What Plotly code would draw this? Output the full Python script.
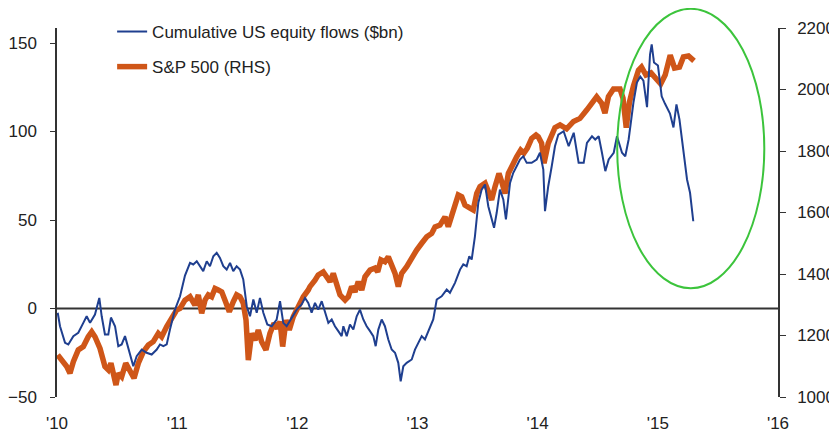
import plotly.graph_objects as go

# cumulative US equity flows ($bn), left axis
FLOW_YEARS = [
    2010.006, 2010.025, 2010.067, 2010.094, 2010.136, 2010.177, 2010.219, 2010.247, 2010.275, 2010.316,
    2010.352, 2010.372, 2010.399, 2010.427, 2010.449, 2010.483, 2010.510, 2010.538, 2010.566, 2010.593,
    2010.635, 2010.663, 2010.705, 2010.746, 2010.788, 2010.830, 2010.857, 2010.885, 2010.913, 2010.940,
    2010.982, 2011.024, 2011.065, 2011.107, 2011.134, 2011.163, 2011.190, 2011.217, 2011.246, 2011.273,
    2011.301, 2011.329, 2011.356, 2011.384, 2011.412, 2011.440, 2011.467, 2011.495, 2011.523, 2011.550,
    2011.579, 2011.606, 2011.634, 2011.662, 2011.689, 2011.717, 2011.750, 2011.787, 2011.828, 2011.856,
    2011.883, 2011.911, 2011.953, 2011.995, 2012.036, 2012.064, 2012.091, 2012.119, 2012.147, 2012.174,
    2012.203, 2012.230, 2012.258, 2012.286, 2012.313, 2012.341, 2012.369, 2012.383, 2012.411, 2012.438,
    2012.466, 2012.494, 2012.521, 2012.549, 2012.577, 2012.605, 2012.632, 2012.652, 2012.674, 2012.702,
    2012.729, 2012.757, 2012.785, 2012.813, 2012.840, 2012.860, 2012.882, 2012.910, 2012.952, 2012.979,
    2013.007, 2013.035, 2013.062, 2013.090, 2013.131, 2013.160, 2013.201, 2013.243, 2013.270, 2013.312,
    2013.354, 2013.381, 2013.409, 2013.431, 2013.451, 2013.478, 2013.506, 2013.534, 2013.562, 2013.589,
    2013.637, 2013.659, 2013.686, 2013.714, 2013.736, 2013.770, 2013.797, 2013.825, 2013.853, 2013.880,
    2013.909, 2013.950, 2013.992, 2014.019, 2014.047, 2014.061, 2014.088, 2014.117, 2014.144, 2014.172,
    2014.216, 2014.258, 2014.300, 2014.341, 2014.383, 2014.410, 2014.452, 2014.479, 2014.508, 2014.535,
    2014.563, 2014.591, 2014.633, 2014.660, 2014.702, 2014.729, 2014.757, 2014.797, 2014.826, 2014.854,
    2014.880, 2014.910, 2014.935, 2014.949, 2014.968, 2015.001, 2015.032, 2015.059, 2015.101, 2015.130,
    2015.155, 2015.180, 2015.213, 2015.243, 2015.268, 2015.295,
]
FLOWS = [
    -2.4, -10.0, -19.4, -20.3, -15.6, -13.7, -8.1, -4.4, -8.1, -3.4,
    6.0, -4.4, -14.7, -14.7, -5.1, -10.0, -21.3, -20.3, -15.6, -22.2,
    -32.6, -26.9, -23.2, -25.0, -26.0, -23.2, -20.3, -21.3, -20.3, -11.9,
    -0.6, 6.9, 18.6, 25.8, 24.9, 26.7, 23.9, 21.1, 26.7, 23.9,
    29.5, 31.5, 28.6, 23.9, 22.0, 25.8, 21.1, 23.9, 22.0, 16.4,
    1.3, -4.4, 5.1, -2.4, 6.0, -2.4, -9.0, -10.0, -6.2, 4.1,
    -8.1, -10.0, -5.3, -0.6, 2.3, 6.0, 3.2, -2.4, 3.2, -0.6,
    4.1, -2.4, -8.1, -6.2, -10.0, -12.8, -15.6, -10.0, -15.6, -9.0,
    -11.9, -4.4, -0.6, -6.2, -10.0, -12.8, -15.6, -21.3, -11.9, -6.2,
    -10.0, -17.5, -23.2, -25.0, -30.7, -41.1, -32.6, -30.7, -28.8, -23.2,
    -19.4, -15.6, -17.5, -12.8, -6.2, 5.1, 6.9, 10.7, 8.9, 14.5,
    22.0, 24.9, 23.9, 29.5, 27.7, 40.8, 59.7, 67.2, 70.1, 57.8,
    45.6, 54.1, 67.2, 61.6, 50.3, 71.0, 76.7, 80.4, 84.2, 86.0,
    82.3, 82.3, 84.2, 88.0, 78.5, 55.0, 69.1, 80.4, 91.7, 98.3,
    100.2, 91.7, 99.3, 82.3, 82.3, 93.6, 97.3, 95.5, 97.3, 88.0,
    77.6, 84.2, 88.0, 97.3, 88.0, 86.0, 95.5, 116.4, 127.7, 131.1,
    128.8, 113.8, 143.5, 149.2, 139.0, 137.3, 119.9, 115.8, 110.2, 102.3,
    115.3, 106.8, 88.1, 72.9, 65.4, 49.3,
]

# S&P 500 level, right axis
SPX_YEARS = [
    2010.006, 2010.039, 2010.081, 2010.108, 2010.136, 2010.177, 2010.219, 2010.260, 2010.289, 2010.316,
    2010.358, 2010.399, 2010.427, 2010.449, 2010.468, 2010.491, 2010.510, 2010.538, 2010.572, 2010.607,
    2010.641, 2010.677, 2010.718, 2010.760, 2010.801, 2010.843, 2010.871, 2010.913, 2010.954, 2010.996,
    2011.024, 2011.065, 2011.107, 2011.148, 2011.176, 2011.204, 2011.232, 2011.259, 2011.287, 2011.315,
    2011.342, 2011.371, 2011.398, 2011.434, 2011.467, 2011.495, 2011.523, 2011.550, 2011.573, 2011.592,
    2011.620, 2011.648, 2011.675, 2011.703, 2011.739, 2011.772, 2011.806, 2011.833, 2011.856, 2011.878,
    2011.906, 2011.933, 2011.966, 2012.008, 2012.050, 2012.091, 2012.105, 2012.147, 2012.174, 2012.216,
    2012.244, 2012.272, 2012.299, 2012.328, 2012.355, 2012.397, 2012.424, 2012.452, 2012.480, 2012.507,
    2012.536, 2012.563, 2012.605, 2012.646, 2012.669, 2012.696, 2012.729, 2012.757, 2012.785, 2012.813,
    2012.840, 2012.868, 2012.910, 2012.952, 2012.993, 2013.035, 2013.077, 2013.118, 2013.146, 2013.187,
    2013.229, 2013.256, 2013.285, 2013.312, 2013.339, 2013.368, 2013.395, 2013.437, 2013.464, 2013.493,
    2013.520, 2013.562, 2013.589, 2013.617, 2013.645, 2013.678, 2013.701, 2013.728, 2013.756, 2013.792,
    2013.825, 2013.859, 2013.886, 2013.914, 2013.950, 2013.986, 2014.005, 2014.033, 2014.053, 2014.088,
    2014.117, 2014.144, 2014.186, 2014.241, 2014.298, 2014.352, 2014.408, 2014.450, 2014.491, 2014.533,
    2014.560, 2014.589, 2014.631, 2014.685, 2014.710, 2014.737, 2014.764, 2014.797, 2014.839, 2014.864,
    2014.901, 2014.943, 2014.985, 2015.024, 2015.061, 2015.103, 2015.139, 2015.180, 2015.213, 2015.255,
    2015.301,
]
SPX = [
    1137, 1120, 1099, 1077, 1115, 1153, 1164, 1196, 1212, 1196,
    1158, 1099, 1088, 1110, 1077, 1039, 1077, 1066, 1110, 1088,
    1061, 1110, 1147, 1169, 1180, 1207, 1196, 1229, 1256, 1283,
    1288, 1315, 1326, 1299, 1332, 1272, 1315, 1332, 1326, 1353,
    1348, 1342, 1315, 1277, 1310, 1332, 1326, 1305, 1250, 1120,
    1207, 1185, 1218, 1180, 1153, 1207, 1240, 1223, 1245, 1164,
    1250, 1218, 1261, 1299, 1326, 1348, 1359, 1380, 1397, 1407,
    1391, 1375, 1402, 1370, 1332, 1315, 1326, 1359, 1342, 1375,
    1348, 1391, 1413, 1419, 1407, 1446, 1440, 1456, 1429, 1402,
    1359, 1402, 1424, 1456, 1478, 1500, 1521, 1532, 1553, 1559,
    1586, 1554, 1586, 1619, 1657, 1651, 1624, 1614, 1608, 1662,
    1684, 1695, 1673, 1641, 1684, 1727, 1700, 1662, 1727, 1760,
    1781, 1803, 1793, 1809, 1841, 1852, 1846, 1825, 1760, 1825,
    1858, 1876, 1885, 1872, 1896, 1906, 1933, 1958, 1976, 1955,
    1923, 1977, 2002, 2002, 1972, 1876, 1959, 2011, 2063, 2073,
    2047, 2054, 2034, 2018, 2047, 2112, 2070, 2073, 2106, 2109,
    2093,
]

YEAR_TICKS = [2010, 2011, 2012, 2013, 2014, 2015, 2016]
YEAR_LABELS = ["'10", "'11", "'12", "'13", "'14", "'15", "'16"]
FLOW_TICKS = [-50, 0, 50, 100, 150]
SPX_TICKS = [1000, 1200, 1400, 1600, 1800, 2000, 2200]

BLUE = "#1f3f8f"
ORANGE = "#cf5618"
AXIS = "#333333"
FONT = dict(family="Liberation Sans, Arial, sans-serif", size=17, color="#222222")

fig = go.Figure()

# S&P on the primary axis (right side) so the flows line sits on top
fig.add_trace(go.Scatter(
    x=SPX_YEARS, y=SPX, mode="lines", name="S&P 500 (RHS)",
    line=dict(color=ORANGE, width=5.5), yaxis="y",
    legendgroup="b", legendrank=2,
))
fig.add_trace(go.Scatter(
    x=FLOW_YEARS, y=FLOWS, mode="lines", name="Cumulative US equity flows ($bn)",
    line=dict(color=BLUE, width=2), yaxis="y2",
    legendgroup="a", legendrank=1,
))

# zero line of the flows axis
fig.add_shape(type="line", xref="paper", yref="y2", x0=0, x1=1, y0=0, y1=0,
              line=dict(color=AXIS, width=2), layer="below")

# green ring round the 2015 divergence
fig.add_shape(type="circle", xref="paper", yref="paper",
              x0=0.777, x1=0.981, y0=0.295, y1=1.052,
              line=dict(color="#3cc43c", width=2))

# the page body keeps its default 8px margin, so the figure is 8px smaller
fig.update_layout(
    width=829, height=426,
    margin=dict(l=49, r=59, t=20, b=37, autoexpand=False),
    plot_bgcolor="white", paper_bgcolor="white",
    font=FONT,
    showlegend=True,
    legend=dict(xref="container", yref="container", x=0.1256, y=0.986,
                xanchor="left", yanchor="top",
                bgcolor="rgba(0,0,0,0)", tracegroupgap=10,
                font=FONT),
    xaxis=dict(range=[2010, 2016], tickvals=YEAR_TICKS, ticktext=YEAR_LABELS,
               showgrid=False, zeroline=False, showline=False, ticks="",
               ticklabelstandoff=14, automargin=False),
    yaxis=dict(range=[1000, 2200], side="right", tickvals=SPX_TICKS,
               showgrid=False, zeroline=False, showline=True, linecolor=AXIS,
               linewidth=1.5, ticks="outside", ticklen=6, tickcolor=AXIS,
               ticklabelstandoff=8, automargin=False),
    yaxis2=dict(range=[-50, 158.5], side="left", overlaying="y", tickvals=FLOW_TICKS,
                showgrid=False, zeroline=False, showline=True, linecolor=AXIS,
                linewidth=1.5, ticks="outside", ticklen=5, tickcolor=AXIS,
                ticklabelstandoff=10, automargin=False),
)

fig.write_html("out.html")
